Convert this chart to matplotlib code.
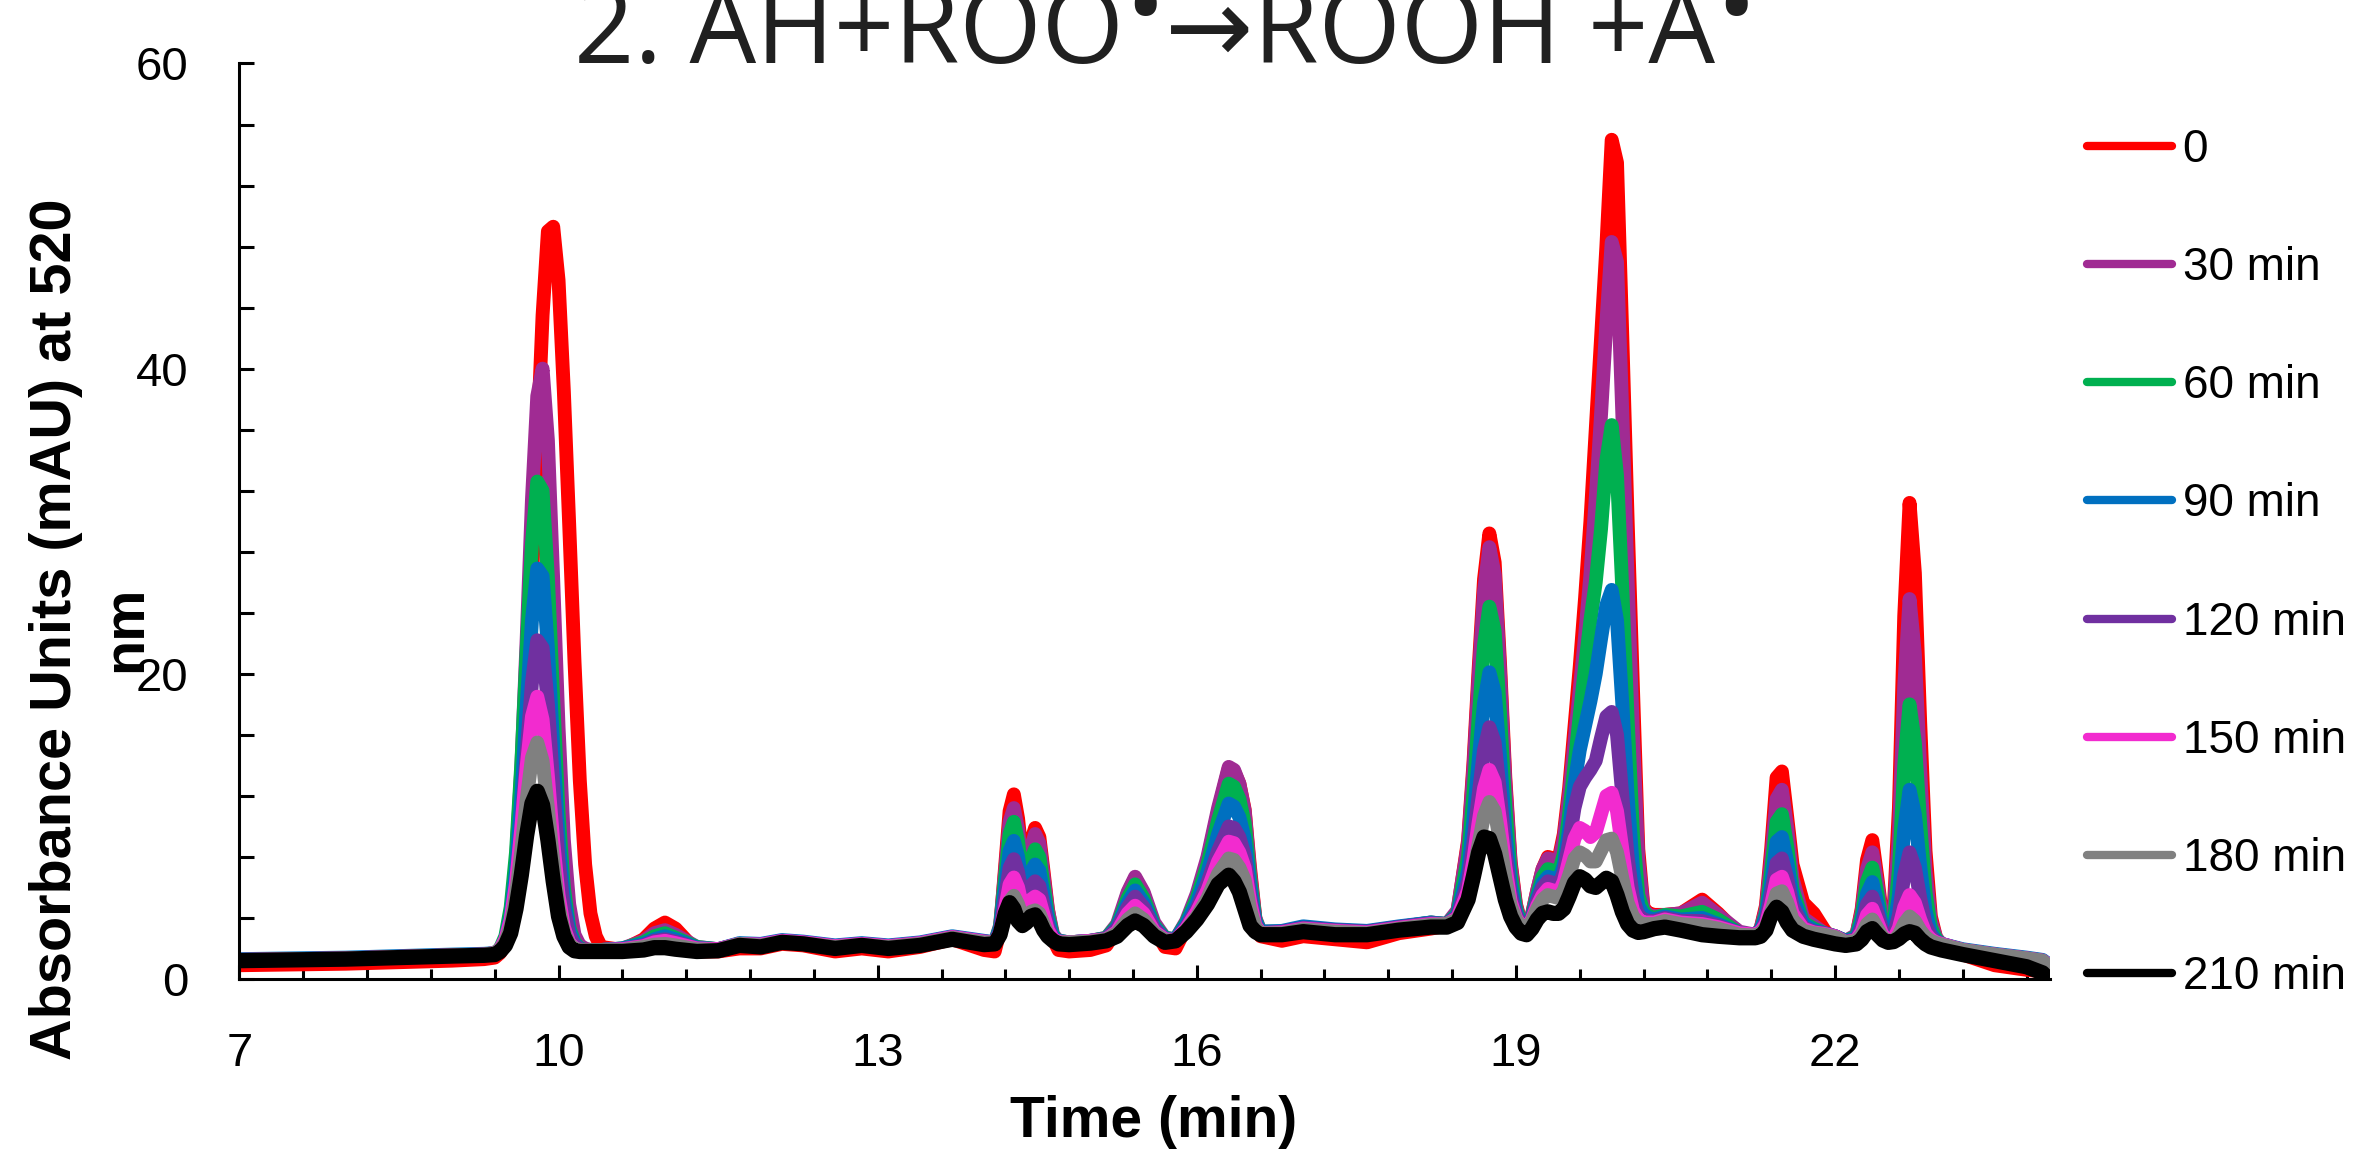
import matplotlib
matplotlib.use('Agg')
import matplotlib.pyplot as plt
from matplotlib.ticker import FixedLocator, MultipleLocator
import numpy as np

plt.rcParams['font.family'] = 'Liberation Sans'

# retention time grid (min)
time_min = [7.0, 7.5, 8.0, 8.5, 9.0, 9.3,
            9.4, 9.45, 9.5, 9.55, 9.6, 9.65, 9.7, 9.75, 9.8, 9.85, 9.9, 9.95, 10.0, 10.05, 10.1, 10.15, 10.2, 10.25, 10.3, 10.35, 10.4,
            10.6, 10.8, 10.9, 11.0, 11.1, 11.3, 11.5,
            11.7, 11.9, 12.1, 12.3, 12.6, 12.85, 13.1, 13.4, 13.7, 14.0,
            14.1, 14.15, 14.2, 14.24, 14.28, 14.32, 14.36, 14.4, 14.44, 14.48, 14.52, 14.56, 14.6, 14.65, 14.7, 14.8,
            15.0, 15.15, 15.25, 15.35, 15.42, 15.5, 15.6, 15.7, 15.8,
            15.9, 16.0, 16.1, 16.2, 16.3, 16.35, 16.4, 16.45, 16.5, 16.55, 16.6,
            16.8, 17.0, 17.3, 17.6, 17.9, 18.2,
            18.35, 18.45, 18.55, 18.6, 18.65, 18.7, 18.75, 18.8, 18.85, 18.9, 18.95, 19.0, 19.05, 19.1,
            19.15, 19.2, 19.25, 19.3, 19.35, 19.4,
            19.45, 19.5, 19.55, 19.6, 19.65, 19.7, 19.75, 19.8, 19.85, 19.9, 19.95, 20.0, 20.05, 20.1, 20.15, 20.2, 20.25, 20.3,
            20.4, 20.55, 20.75, 20.9, 21.1, 21.25,
            21.3, 21.35, 21.4, 21.45, 21.5, 21.55, 21.6, 21.7, 21.8, 21.9, 22.0,
            22.1, 22.2, 22.25, 22.3, 22.35, 22.4, 22.45, 22.5, 22.55, 22.6, 22.65, 22.7, 22.75, 22.8, 22.85, 22.9, 22.95, 23.0,
            23.2, 23.5, 23.8, 23.95, 24.0]

abs_0 = [0.9, 0.95, 1.0, 1.1, 1.2, 1.3,
         1.4, 1.7, 2.3, 3.8, 6.3, 10.8, 17.5, 26.0, 35.1, 43.5, 49.0, 49.3, 45.8, 38.5, 29.8, 20.8, 13.0, 7.5, 4.3, 2.8, 2.1,
         1.9, 2.6, 3.3, 3.7, 3.3, 1.8, 1.8,
         2.0, 2.0, 2.3, 2.2, 1.8, 2.0, 1.8, 2.1, 2.6, 1.9,
         1.8, 3.2, 7.5, 11.0, 12.1, 10.5, 7.8, 7.6, 9.0, 9.9, 9.3, 7.0, 4.6, 2.6, 1.9, 1.8,
         1.9, 2.2, 3.3, 5.6, 6.6, 5.6, 3.3, 2.1, 2.0,
         3.4, 5.3, 7.8, 11.0, 13.8, 13.6, 12.8, 11.1, 7.3, 4.0, 2.8,
         2.5, 2.8, 2.6, 2.4, 3.0, 3.3,
         3.5, 4.4, 9.1, 14.1, 20.4, 26.2, 29.2, 27.3, 20.7, 13.2, 7.7, 4.9, 3.6, 3.3,
         4.2, 5.8, 7.2, 8.0, 7.9, 7.8,
         9.5, 12.5, 16.5, 20.5, 25.0, 30.0, 36.0, 42.0, 48.0, 55.0, 53.5, 42.0, 30.0, 19.0, 8.5, 4.6, 4.3, 4.2,
         4.2, 4.3, 5.2, 4.3, 2.9, 2.7,
         3.3, 4.8, 8.6, 13.2, 13.6, 10.6, 7.5, 5.0, 4.3, 3.2, 2.4,
         2.3, 2.85, 4.6, 7.8, 9.1, 6.5, 3.7, 2.9, 4.4, 11.2, 23.8, 31.2, 26.6, 16.8, 8.4, 4.1, 2.7, 2.2,
         1.6, 0.9, 0.6, 0.5, 0.3]

abs_30 = [1.2, 1.25, 1.3, 1.4, 1.5, 1.55,
          1.6, 1.9, 2.6, 4.2, 7.7, 13.8, 22.2, 31.4, 38.2, 40.0, 35.3, 26.1, 16.5, 9.1, 4.9, 2.9, 2.2, 2.0, 1.9, 1.9, 1.9,
          2.0, 2.5, 3.0, 3.2, 2.9, 2.1, 1.95,
          2.3, 2.25, 2.5, 2.4, 2.15, 2.3, 2.15, 2.35, 2.75, 2.45,
          2.4, 3.5, 7.2, 10.3, 11.2, 9.8, 7.3, 7.1, 8.6, 9.5, 8.9, 6.7, 4.5, 2.9, 2.5, 2.4,
          2.5, 2.7, 3.6, 5.7, 6.7, 5.7, 3.7, 2.7, 2.6,
          3.8, 5.6, 8.0, 11.2, 13.9, 13.7, 12.8, 11.0, 7.0, 4.0, 3.1,
          3.1, 3.3, 3.2, 3.1, 3.4, 3.7,
          3.6, 4.5, 8.9, 13.7, 19.8, 25.4, 28.3, 26.5, 20.1, 12.8, 7.5, 4.8, 3.6, 3.3,
          4.2, 5.8, 7.2, 7.9, 7.8, 7.6,
          9.2, 12.0, 15.5, 19.0, 22.5, 26.5, 31.5, 37.0, 43.0, 48.3, 47.0, 37.0, 26.0, 16.0, 7.8, 4.5, 4.2, 4.1,
          4.2, 4.3, 5.0, 4.2, 3.1, 2.9,
          3.3, 4.6, 8.0, 11.8, 12.4, 9.9, 6.6, 4.0, 3.5, 3.0, 2.8,
          2.5, 2.9, 4.4, 7.2, 8.3, 6.1, 3.6, 2.9, 4.1, 9.4, 19.2, 24.9, 21.3, 13.7, 7.1, 3.8, 2.7, 2.3,
          1.9, 1.6, 1.35, 1.2, 0.9]

abs_60 = [1.25, 1.3, 1.35, 1.45, 1.55, 1.6,
          1.7, 2.0, 2.8, 4.7, 8.3, 14.1, 21.5, 28.5, 32.6, 32.0, 26.3, 18.3, 10.9, 6.0, 3.4, 2.4, 2.0, 1.9, 1.9, 1.9, 1.9,
          2.0, 2.4, 2.8, 3.0, 2.7, 2.1, 1.95,
          2.3, 2.25, 2.5, 2.4, 2.15, 2.3, 2.15, 2.35, 2.75, 2.45,
          2.4, 3.4, 6.8, 9.5, 10.3, 9.0, 6.8, 6.6, 7.8, 8.5, 8.0, 6.1, 4.2, 2.8, 2.5, 2.4,
          2.5, 2.7, 3.5, 5.3, 6.2, 5.3, 3.5, 2.7, 2.6,
          3.7, 5.3, 7.5, 10.4, 12.8, 12.6, 11.8, 10.2, 6.6, 3.9, 3.1,
          3.1, 3.35, 3.2, 3.1, 3.4, 3.7,
          3.6, 4.3, 8.0, 12.1, 17.2, 21.9, 24.4, 22.8, 17.4, 11.3, 6.9, 4.6, 3.6, 3.3,
          4.1, 5.5, 6.7, 7.2, 7.1, 6.9,
          8.2, 10.8, 14.0, 17.3, 20.5, 23.5, 26.0, 29.5, 34.0, 36.3, 33.0, 25.5, 17.0, 9.5, 5.5, 4.4, 4.1, 4.0,
          4.2, 4.1, 4.4, 3.9, 3.0, 2.9,
          3.2, 4.3, 7.1, 10.3, 10.8, 8.7, 5.9, 3.7, 3.3, 3.0, 2.8,
          2.5, 2.8, 4.1, 6.4, 7.3, 5.5, 3.4, 2.8, 3.5, 7.2, 14.0, 18.0, 15.5, 10.2, 5.7, 3.4, 2.6, 2.3,
          1.9, 1.6, 1.35, 1.2, 0.95]

abs_90 = [1.3, 1.35, 1.4, 1.5, 1.6, 1.65,
          1.7, 1.9, 2.6, 4.1, 7.1, 11.8, 17.8, 23.5, 26.9, 26.4, 21.7, 15.2, 9.2, 5.3, 3.2, 2.3, 1.96, 1.9, 1.9, 1.9, 1.9,
          2.0, 2.3, 2.6, 2.8, 2.6, 2.05, 1.95,
          2.35, 2.3, 2.55, 2.45, 2.2, 2.35, 2.2, 2.4, 2.8, 2.5,
          2.4, 3.3, 6.1, 8.4, 9.05, 8.0, 6.1, 5.9, 7.0, 7.5, 7.1, 5.5, 3.9, 2.7, 2.5, 2.4,
          2.5, 2.65, 3.4, 5.0, 5.8, 5.0, 3.4, 2.65, 2.6,
          3.6, 5.0, 7.0, 9.5, 11.5, 11.3, 10.6, 9.2, 6.1, 3.8, 3.1,
          3.15, 3.45, 3.25, 3.15, 3.45, 3.7,
          3.6, 4.2, 7.1, 10.4, 14.4, 18.1, 20.1, 18.8, 14.6, 9.7, 6.2, 4.4, 3.5, 3.3,
          4.0, 5.3, 6.3, 6.7, 6.6, 6.4,
          7.5, 9.8, 12.8, 15.0, 16.6, 18.2, 20.0, 22.3, 24.5, 25.5, 23.5, 18.0, 12.0, 7.2, 4.8, 4.2, 4.0, 3.9,
          4.1, 3.9, 4.0, 3.6, 3.0, 2.9,
          3.2, 4.1, 6.3, 9.0, 9.3, 7.7, 5.4, 3.6, 3.2, 3.0, 2.8,
          2.5, 2.7, 3.7, 5.6, 6.35, 4.9, 3.2, 2.7, 3.1, 5.5, 9.8, 12.4, 10.8, 7.4, 4.5, 3.0, 2.5, 2.3,
          1.95, 1.65, 1.4, 1.25, 1.0]

abs_120 = [1.25, 1.3, 1.35, 1.45, 1.55, 1.6,
           1.7, 1.85, 2.4, 3.7, 6.1, 9.9, 14.8, 19.4, 22.2, 21.7, 18.0, 12.7, 7.8, 4.6, 2.9, 2.2, 1.95, 1.88, 1.9, 1.9, 1.9,
           1.95, 2.2, 2.5, 2.6, 2.45, 2.0, 1.95,
           2.3, 2.25, 2.5, 2.4, 2.15, 2.3, 2.15, 2.35, 2.75, 2.45,
           2.4, 3.1, 5.4, 7.3, 7.85, 7.0, 5.4, 5.2, 6.1, 6.4, 6.1, 4.8, 3.5, 2.6, 2.45, 2.4,
           2.5, 2.65, 3.3, 4.7, 5.4, 4.7, 3.3, 2.6, 2.55,
           3.4, 4.6, 6.3, 8.4, 10.0, 9.9, 9.3, 8.1, 5.5, 3.6, 3.0,
           3.1, 3.35, 3.2, 3.1, 3.4, 3.65,
           3.6, 4.1, 6.4, 8.9, 12.1, 15.0, 16.5, 15.5, 12.2, 8.4, 5.6, 4.2, 3.5, 3.3,
           4.0, 5.1, 6.0, 6.4, 6.3, 6.1,
           7.0, 9.0, 11.2, 12.6, 13.2, 13.7, 14.3, 15.8, 17.2, 17.5, 16.0, 12.0, 8.0, 5.3, 4.2, 3.9, 3.8, 3.8,
           4.0, 3.8, 3.8, 3.5, 3.0, 2.9,
           3.1, 3.8, 5.6, 7.6, 7.9, 6.6, 4.8, 3.4, 3.1, 3.0, 2.8,
           2.45, 2.6, 3.4, 4.9, 5.4, 4.3, 3.0, 2.6, 2.8, 4.2, 6.8, 8.3, 7.3, 5.3, 3.6, 2.8, 2.45, 2.3,
           1.9, 1.6, 1.35, 1.2, 0.95]

abs_150 = [1.25, 1.3, 1.35, 1.45, 1.55, 1.6,
           1.7, 1.95, 2.6, 3.9, 6.3, 9.9, 13.9, 17.2, 18.5, 17.0, 13.3, 9.0, 5.5, 3.4, 2.4, 2.0, 1.9, 1.88, 1.9, 1.9, 1.9,
           1.95, 2.15, 2.4, 2.5, 2.35, 2.0, 1.95,
           2.3, 2.25, 2.5, 2.4, 2.15, 2.3, 2.15, 2.35, 2.75, 2.45,
           2.4, 3.0, 4.7, 6.2, 6.65, 6.0, 4.7, 4.5, 5.2, 5.4, 5.2, 4.2, 3.2, 2.6, 2.45, 2.4,
           2.5, 2.6, 3.1, 4.3, 4.8, 4.3, 3.1, 2.6, 2.55,
           3.3, 4.4, 5.8, 7.7, 9.0, 8.9, 8.3, 7.3, 5.1, 3.5, 3.0,
           3.05, 3.3, 3.15, 3.05, 3.35, 3.6,
           3.6, 4.0, 5.8, 7.8, 10.3, 12.5, 13.7, 12.9, 10.4, 7.4, 5.1, 4.0, 3.4, 3.3,
           3.9, 4.8, 5.5, 5.9, 5.8, 5.6,
           6.4, 7.8, 9.2, 9.9, 9.7, 9.3, 9.6, 10.8, 12.0, 12.2, 11.0, 8.5, 6.0, 4.5, 3.9, 3.7, 3.7, 3.7,
           3.9, 3.7, 3.6, 3.4, 3.0, 2.9,
           3.1, 3.6, 4.9, 6.5, 6.7, 5.7, 4.3, 3.3, 3.05, 2.95, 2.8,
           2.4, 2.55, 3.1, 4.2, 4.6, 3.7, 2.8, 2.55, 2.6, 3.35, 4.7, 5.5, 5.0, 3.9, 3.0, 2.6, 2.4, 2.3,
           1.9, 1.6, 1.35, 1.2, 0.95]

abs_180 = [1.25, 1.3, 1.35, 1.45, 1.55, 1.6,
           1.7, 1.9, 2.4, 3.5, 5.5, 8.4, 11.7, 14.5, 15.5, 14.3, 11.2, 7.7, 4.8, 3.1, 2.3, 1.99, 1.9, 1.88, 1.9, 1.9, 1.9,
           1.9, 2.1, 2.25, 2.3, 2.2, 1.95, 1.9,
           2.3, 2.2, 2.45, 2.35, 2.1, 2.25, 2.1, 2.3, 2.7, 2.4,
           2.4, 2.9, 4.1, 5.1, 5.45, 4.9, 4.0, 3.9, 4.4, 4.5, 4.3, 3.6, 2.9, 2.5, 2.4, 2.4,
           2.45, 2.6, 3.0, 3.9, 4.3, 3.9, 3.0, 2.55, 2.5,
           3.2, 4.1, 5.3, 6.9, 7.9, 7.8, 7.3, 6.5, 4.6, 3.4, 3.0,
           3.0, 3.25, 3.1, 3.0, 3.3, 3.55,
           3.6, 3.9, 5.3, 6.9, 8.9, 10.7, 11.6, 11.0, 9.0, 6.6, 4.8, 3.9, 3.4, 3.3,
           3.8, 4.6, 5.2, 5.5, 5.4, 5.3,
           5.8, 6.8, 7.9, 8.3, 8.1, 7.7, 7.7, 8.4, 9.1, 9.2, 8.3, 6.6, 5.0, 4.1, 3.7, 3.6, 3.6, 3.6,
           3.8, 3.6, 3.5, 3.3, 2.9, 2.85,
           3.0, 3.4, 4.4, 5.6, 5.75, 5.0, 3.9, 3.15, 3.0, 2.9, 2.75,
           2.4, 2.5, 2.9, 3.6, 3.9, 3.3, 2.7, 2.5, 2.5, 2.9, 3.65, 4.1, 3.8, 3.2, 2.75, 2.5, 2.35, 2.25,
           1.9, 1.6, 1.35, 1.2, 0.9]

abs_210 = [1.2, 1.25, 1.3, 1.4, 1.5, 1.55,
           1.6, 1.8, 2.2, 3.0, 4.6, 6.8, 9.4, 11.5, 12.3, 11.4, 9.1, 6.4, 4.1, 2.8, 2.1, 1.85, 1.8, 1.8, 1.8, 1.8, 1.8,
           1.8, 1.9, 2.05, 2.05, 1.95, 1.8, 1.85,
           2.2, 2.1, 2.4, 2.3, 2.0, 2.2, 2.0, 2.2, 2.6, 2.25,
           2.3, 2.9, 4.3, 5.0, 4.6, 3.8, 3.5, 3.7, 4.1, 4.2, 3.8, 3.2, 2.8, 2.5, 2.3, 2.25,
           2.35, 2.5, 2.8, 3.5, 3.8, 3.5, 2.8, 2.4, 2.5,
           3.1, 3.9, 4.9, 6.2, 6.8, 6.4, 5.7, 4.6, 3.5, 3.1, 2.9,
           2.9, 3.1, 2.9, 2.9, 3.2, 3.4,
           3.4, 3.7, 5.2, 6.7, 8.3, 9.3, 9.2, 8.2, 6.7, 5.2, 4.1, 3.4, 3.0, 2.9,
           3.3, 3.9, 4.3, 4.4, 4.3, 4.3,
           4.6, 5.4, 6.3, 6.7, 6.5, 6.1, 6.0, 6.3, 6.6, 6.4, 5.5, 4.4, 3.6, 3.2, 3.05, 3.1, 3.2, 3.3,
           3.4, 3.2, 2.9, 2.8, 2.7, 2.7,
           2.8, 3.2, 4.2, 4.7, 4.4, 3.7, 3.2, 2.8, 2.6, 2.45, 2.3,
           2.2, 2.3, 2.6, 3.1, 3.3, 2.9, 2.55, 2.4, 2.45, 2.65, 2.95, 3.1, 3.0, 2.6, 2.3, 2.1, 2.0, 1.9,
           1.6, 1.2, 0.8, 0.4, 0.05]

labels = ['0', '30 min', '60 min', '90 min', '120 min', '150 min', '180 min', '210 min']
colors = ['#FF0000', '#A02B93', '#00B050', '#0070C0', '#7030A0', '#F22BCF', '#808080', '#000000']
series = [abs_0, abs_30, abs_60, abs_90, abs_120, abs_150, abs_180, abs_210]

fig = plt.figure(figsize=(23.68, 11.52), dpi=100)
ax = fig.add_axes([0.1011, 0.1502, 0.8657 - 0.1011, 0.9449 - 0.1502])

for vals, lab, col in zip(series, labels, colors):
    lw = 11.0 if col == '#000000' else 10.0
    ax.plot(time_min, vals, color=col, lw=lw, label=lab,
            solid_capstyle='round', solid_joinstyle='round')

ax.set_xlim(7, 24.02)
ax.set_ylim(0, 60)
ax.xaxis.set_major_locator(FixedLocator([7, 10, 13, 16, 19, 22]))
ax.xaxis.set_minor_locator(FixedLocator(np.arange(7, 23.9, 0.6)))
ax.yaxis.set_major_locator(FixedLocator([0, 20, 40, 60]))
ax.yaxis.set_minor_locator(MultipleLocator(4))

ax.tick_params(axis='x', which='major', direction='in', length=10, width=2.2, pad=38, labelsize=34)
ax.tick_params(axis='x', which='minor', direction='in', length=7, width=2.2)
ax.tick_params(axis='y', which='both', direction='in', length=11, width=2.2, pad=37, labelsize=34)
for s in ['top', 'right']:
    ax.spines[s].set_visible(False)
for s in ['left', 'bottom']:
    ax.spines[s].set_linewidth(2.2)

fig.text(0.4873, 0.013, 'Time (min)', ha='center', va='baseline', fontsize=41, fontweight='bold')
fig.text(0.0235, 0.454, 'Absorbance Units (mAU) at 520', rotation=90, ha='center', va='center',
         fontsize=41.5, fontweight='bold')
fig.text(0.0532, 0.454, 'nm', rotation=90, ha='center', va='center', fontsize=41.5, fontweight='bold')

# title in pieces so the radical dots sit raised like superscripts
tfont = dict(fontsize=76, color='#202020', family=['Open Sans', 'DejaVu Sans'])
t1 = fig.text(0.2424, 0.9453, '2. AH+ROO', ha='left', va='baseline', **tfont)
t2 = ax.annotate('\u2022', xy=(1, 0), xycoords=t1, xytext=(1, 15), textcoords='offset points',
                 ha='left', va='bottom', **tfont)
t3 = ax.annotate('\u2192ROOH +A', xy=(1, 0), xycoords=t2, xytext=(0, -15), textcoords='offset points',
                 ha='left', va='bottom', **tfont)
t4 = ax.annotate('\u2022', xy=(1, 0), xycoords=t3, xytext=(1, 15), textcoords='offset points',
                 ha='left', va='bottom', **tfont)

leg = fig.legend(loc='center left', bbox_to_anchor=(0.8813, 0.5109), frameon=False, fontsize=33,
                 handlelength=1.85, handletextpad=0.24, labelspacing=1.62, borderpad=0, borderaxespad=0)
for line in leg.get_lines():
    line.set_linewidth(6)
    line.set_solid_capstyle('round')

fig.savefig('out.png', dpi=100)
